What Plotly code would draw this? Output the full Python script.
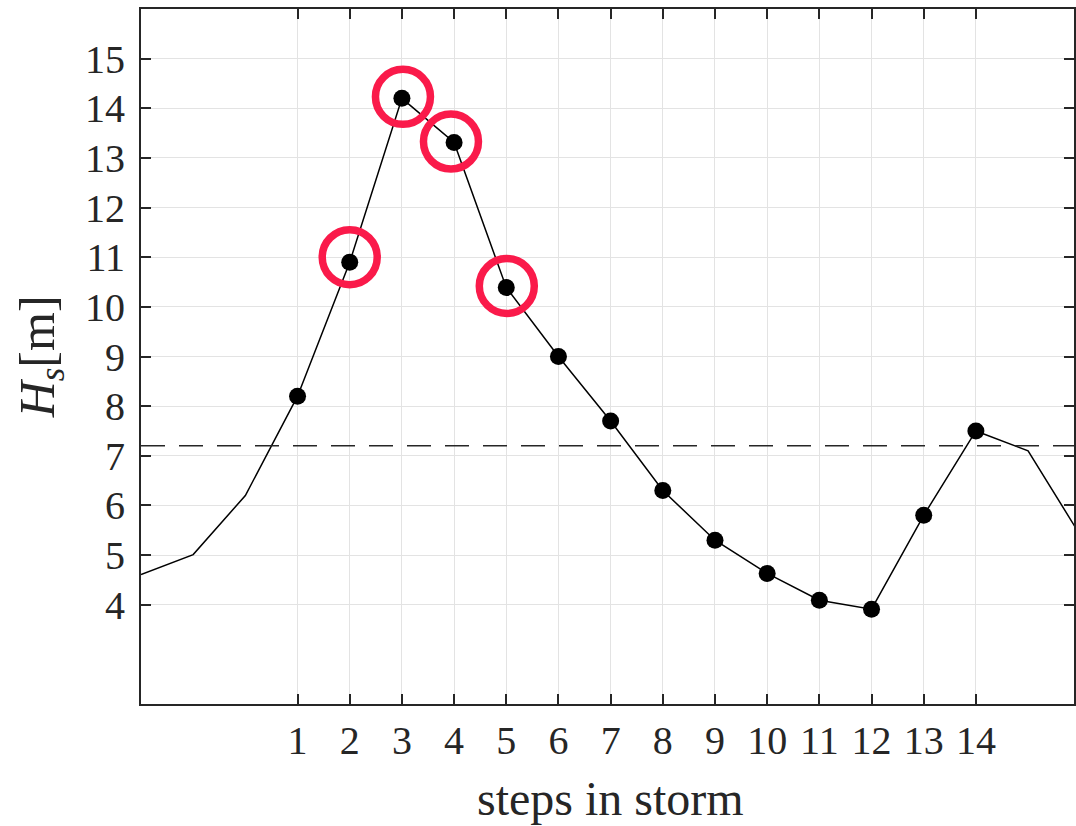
import plotly.graph_objects as go

# data
steps = [-2, -1, 0, 1, 2, 3, 4, 5, 6, 7, 8, 9, 10, 11, 12, 13, 14, 15, 16]
hs = [4.61, 5.01, 6.2, 8.2, 10.9, 14.2, 13.31, 10.39, 9.0, 7.7, 6.3, 5.3, 4.63, 4.09, 3.91, 5.8, 7.5, 7.1, 5.4]
storm_steps = [1, 2, 3, 4, 5, 6, 7, 8, 9, 10, 11, 12, 13, 14]
storm_hs = [8.2, 10.9, 14.2, 13.31, 10.39, 9.0, 7.7, 6.3, 5.3, 4.63, 4.09, 3.91, 5.8, 7.5]
highlight_x = [2.0, 3.02, 3.94, 5.01]
highlight_y = [11.0, 14.23, 13.33, 10.42]
threshold = 7.2
x_range = [-2, 15.88]
y_range = [2, 16]
x_ticks = list(range(1, 15))
y_ticks = list(range(4, 16))

TXT = "#262626"
FONT = "Liberation Serif"

fig = go.Figure()

fig.add_trace(go.Scatter(x=steps, y=hs, mode="lines",
                         line=dict(color="black", width=1.5), showlegend=False))
fig.add_trace(go.Scatter(x=[x_range[0], 17], y=[threshold, threshold], mode="lines",
                         line=dict(color=TXT, width=1.5, dash="24px,14px"), showlegend=False))
fig.add_trace(go.Scatter(x=storm_steps, y=storm_hs, mode="markers",
                         marker=dict(color="black", size=17, line=dict(width=0)),
                         showlegend=False))
fig.add_trace(go.Scatter(x=highlight_x, y=highlight_y, mode="markers",
                         marker=dict(symbol="circle-open", size=55, color="#FA1A4A",
                                     line=dict(width=7.5, color="#FA1A4A")),
                         showlegend=False))

axis_common = dict(
    showline=True, linecolor=TXT, linewidth=2, mirror="ticks",
    ticks="inside", ticklen=10, tickwidth=1.5, tickcolor=TXT,
    showgrid=True, gridcolor="#E3E3E3", gridwidth=1.3,
    zeroline=False, tickfont=dict(family=FONT, size=40, color=TXT),
)

fig.update_xaxes(range=x_range, tickvals=x_ticks, ticktext=[str(v) for v in x_ticks],
                 ticklabelstandoff=0, **axis_common)
fig.update_yaxes(range=y_range, tickvals=y_ticks, ticktext=[str(v) for v in y_ticks],
                 ticklabelstandoff=6, **axis_common)

fig.add_annotation(text="steps in storm", xref="paper", yref="paper",
                   x=0.5037, y=-0.136, xanchor="center", yanchor="middle",
                   showarrow=False, font=dict(family=FONT, size=48, color=TXT))
fig.add_annotation(text="<i>H</i><sub><i>s</i></sub>[m]", xref="paper", yref="paper",
                   x=-0.107, y=0.499, xanchor="center", yanchor="middle", textangle=-90,
                   showarrow=False, font=dict(family=FONT, size=50, color=TXT))

fig.update_layout(
    width=1076, height=826,
    margin=dict(l=141, r=0, t=9, b=122, pad=0),
    paper_bgcolor="white", plot_bgcolor="white",
)

fig.write_html("out.html")
